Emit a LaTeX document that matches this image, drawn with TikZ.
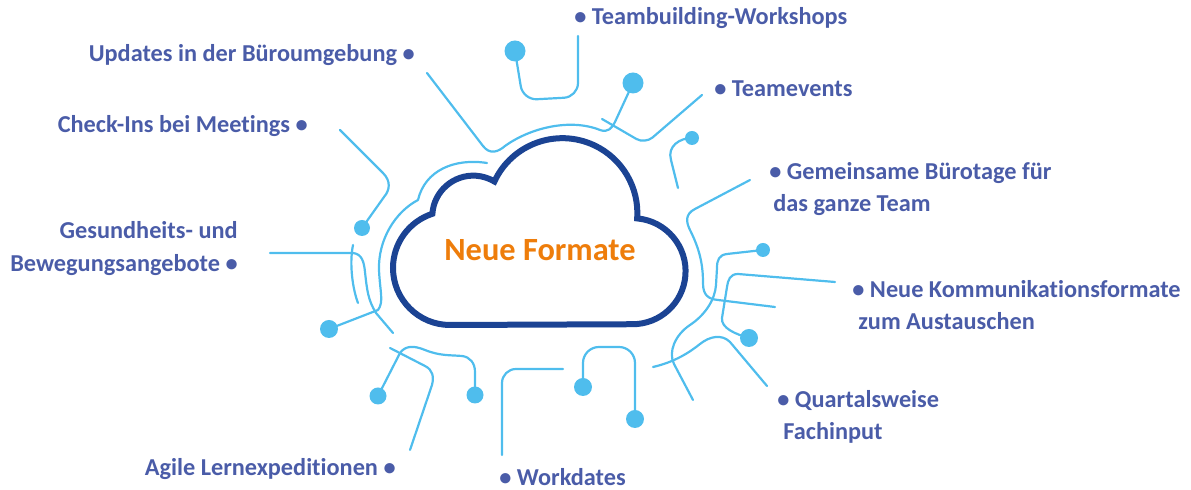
\documentclass[tikz,border=0pt]{standalone}
\usepackage{fontspec}
\setmainfont{Carlito}[Ligatures={NoCommon,NoRare,NoContextual}]
\definecolor{lbl}{HTML}{4A5CA8}
\definecolor{wirec}{HTML}{4FBDED}
\definecolor{cld}{HTML}{1B4393}
\definecolor{org}{HTML}{EE7D0B}
\begin{document}
\begin{tikzpicture}[x=0.5pt,y=-0.5pt,
  wire/.style={draw=wirec,line width=1.1pt,line cap=round,line join=round},
  lab/.style={text=lbl,font=\fontsize{12.15}{14}\selectfont\bfseries,inner sep=0pt},
  cloudline/.style={draw=cld,line width=3pt,line join=miter}]
\useasboundingbox (0,0) rectangle (1191,490);

% cloud
\draw[cloudline] (450,325) arc[start angle=90,end angle=252,radius=57]
  arc[start angle=184,end angle=301,radius=41]
  arc[start angle=205,end angle=364,radius=75]
  arc[start angle=275,end angle=450,radius=53] -- cycle;
\node[text=org,font=\fontsize{16.2}{18}\selectfont\bfseries,inner sep=0pt,anchor=base] (nf) at (540,261) {Neue Formate};

% dots
\coordinate (d1) at (515,51);
\coordinate (d2) at (633,83);
\coordinate (d3) at (692,138);
\coordinate (d4) at (763,250);
\coordinate (d5) at (749,338);
\coordinate (d6) at (635,419);
\coordinate (d7) at (583,387);
\coordinate (d8) at (475,395);
\coordinate (d9) at (378,396);
\coordinate (d10) at (329,329);
\coordinate (d11) at (362,228);

% wires
\draw[wire,rounded corners=7pt] (d1) -- (523,100) -- (578,97) -- (578,36);
\draw[wire] (427,73) -- (483,146) .. controls (490,155) and (498,152) .. (505,146)
  .. controls (530,128) and (570,118) .. (600,130) .. controls (608,133) and (612,128) .. (615,122) -- (d2);
\draw[wire,rounded corners=5pt] (602,119) -- (645,144) -- (702,95);
\draw[wire] (d3) .. controls (680,138) and (667,146) .. (671,160) -- (678,188);
\draw[wire] (750,180) -- (695,209) .. controls (685,214) and (686,222) .. (690,230)
  .. controls (700,250) and (703,265) .. (703,283) .. controls (703,295) and (708,299) .. (718,300) -- (775,307);
\draw[wire] (d4) -- (727,254) .. controls (719,255) and (717,260) .. (717,268) -- (716,285)
  .. controls (715,300) and (705,315) .. (690,325) .. controls (675,335) and (668,352) .. (674,364) -- (693,400);
\draw[wire] (835,282) -- (738,274) .. controls (730,274) and (728,280) .. (727,287) -- (722,318)
  .. controls (721,328) and (735,334) .. (d5);
\draw[wire] (653,367) .. controls (675,362) and (690,352) .. (700,344) .. controls (710,336) and (722,334) .. (730,342) -- (767,386);
\draw[wire,rounded corners=7pt] (502,455) -- (502,369) -- (563,369);
\draw[wire,rounded corners=8pt] (d7) -- (583,347) -- (635,347) -- (d6);
\draw[wire] (d9) -- (400,353) .. controls (405,346) and (413,345) .. (425,350) .. controls (440,356) and (450,355) .. (462,356)
  .. controls (470,357) and (475,363) .. (475,372) -- (d8);
\draw[wire] (390,348) -- (425,366) .. controls (433,370) and (434,377) .. (432,385) -- (410,450);
\draw[wire] (270,253) -- (353,253) .. controls (362,254) and (364,262) .. (365,272)
  .. controls (367,290) and (368,300) .. (376,313) -- (393,333);
\draw[wire] (353,245) .. controls (349,265) and (353,290) .. (358,303);
\draw[wire] (487,163) .. controls (455,158) and (425,170) .. (418,200) .. controls (395,212) and (378,240) .. (379,270)
  .. controls (380,292) and (384,302) .. (378,310) -- (d10);
\draw[wire] (340,130) -- (383,173) .. controls (391,181) and (390,190) .. (384,197) -- (d11);

\fill[wirec] (d1) circle[radius=5.25pt];
\fill[wirec] (d2) circle[radius=5.25pt];
\fill[wirec] (d3) circle[radius=3.5pt];
\fill[wirec] (d4) circle[radius=3.5pt];
\fill[wirec] (d5) circle[radius=4.5pt];
\fill[wirec] (d6) circle[radius=4.5pt];
\fill[wirec] (d7) circle[radius=4.5pt];
\fill[wirec] (d8) circle[radius=4.25pt];
\fill[wirec] (d9) circle[radius=4.25pt];
\fill[wirec] (d10) circle[radius=4.5pt];
\fill[wirec] (d11) circle[radius=4pt];

% labels
\node[lab,anchor=base west] (tb) at (574,25) {• Teambuilding-Workshops};
\node[lab,anchor=base east] (up) at (415,62) {Updates in der Büroumgebung •};
\node[lab,anchor=base west] (te) at (714,97) {• Teamevents};
\node[lab,anchor=base east] (ci) at (308,133) {Check-Ins bei Meetings •};
\node[lab,anchor=base west] (gb1) at (769,180) {• Gemeinsame Bürotage für};
\node[lab,anchor=base west] (gb2) at (773,212) {das ganze Team};
\node[lab,anchor=base east] (gs1) at (238,239) {Gesundheits- und};
\node[lab,anchor=base east] (gs2) at (238,272) {Bewegungsangebote •};
\node[lab,anchor=base west] (nk1) at (852,298) {• Neue Kommunikationsformate};
\node[lab,anchor=base west] (nk2) at (858,330) {zum Austauschen};
\node[lab,anchor=base west] (qf1) at (777,408) {• Quartalsweise};
\node[lab,anchor=base west] (qf2) at (783,440) {Fachinput};
\node[lab,anchor=base east] (ag) at (396,476) {Agile Lernexpeditionen •};
\node[lab,anchor=base west] (wd) at (499,486) {• Workdates};
\end{tikzpicture}
\end{document}
